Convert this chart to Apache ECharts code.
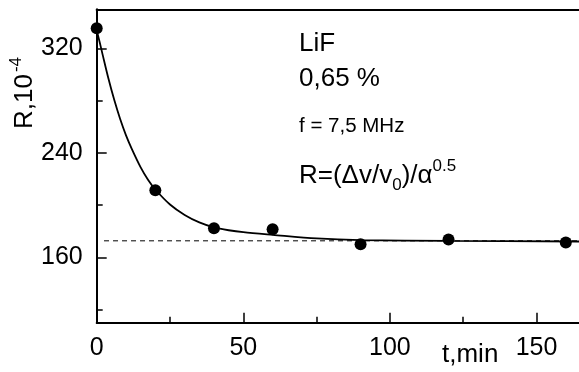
<!DOCTYPE html>
<html>
<head>
<meta charset="utf-8">
<script src="https://cdn.jsdelivr.net/npm/echarts@6/dist/echarts.min.js"></script>
<style>
html,body{margin:0;padding:0;background:#fff;}
#c{width:579px;height:372px;}
</style>
</head>
<body>
<div id="c"></div>
<script>
// measured points
const tPoints = [0, 20, 40, 60, 90, 120, 160];
const rPoints = [335.5, 211.5, 182.4, 181.5, 170, 173.8, 171.5];
// fitted curve
const tFit = [0, 1, 2, 4, 6, 8, 10, 12, 15, 17.5, 20, 25, 30, 35, 40, 45, 50, 60, 75, 90, 120, 164.5];
const rFit = [334, 325, 315.5, 297, 280.5, 266, 253.5, 243, 229, 219.5, 212, 200.5, 192.5, 186.8, 183, 180.8, 179.3, 177.3, 174.5, 173.2, 172.6, 172.2];
// dashed asymptote
const tDash = [2.5, 164.5];
const rDash = 172.7;
// ticks
const xMajor = [0, 50, 100, 150];
const xMinor = [25, 75, 125];
const yMajor = [160, 240, 320];
const yMinor = [120, 200, 280];
const xRange = [0, 164.5];
const yRange = [110, 350];

const FONT = '"Liberation Sans", Arial, sans-serif';
const chart = echarts.init(document.getElementById('c'), null, {renderer: 'canvas'});

const pts = tPoints.map((t, i) => [t, rPoints[i]]);
const fit = tFit.map((t, i) => [t, rFit[i]]);
const dash = tDash.map(t => [t, rDash]);

const axisLineStyle = {color: '#000', width: 2};
const tickStyle = {color: '#000', width: 1.5};

chart.setOption({
  animation: false,
  backgroundColor: '#fff',
  grid: {left: 96.7, right: 0, top: 9.3, bottom: 49.3, containLabel: false},
  xAxis: [
    {type: 'value', min: xRange[0], max: xRange[1], position: 'bottom',
     axisLine: {show: true, onZero: false, lineStyle: axisLineStyle},
     axisTick: {show: true, inside: true, length: 10, customValues: xMajor, lineStyle: tickStyle},
     axisLabel: {show: true, customValues: xMajor, margin: 13, color: '#000', fontSize: 25, fontFamily: FONT},
     splitLine: {show: false}},
    {type: 'value', min: xRange[0], max: xRange[1], position: 'bottom',
     axisLine: {show: false},
     axisTick: {show: true, inside: true, length: 6, customValues: xMinor, lineStyle: tickStyle},
     axisLabel: {show: false}, splitLine: {show: false}},
    {type: 'value', min: xRange[0], max: xRange[1], position: 'top',
     axisLine: {show: true, onZero: false, lineStyle: axisLineStyle},
     axisTick: {show: false}, axisLabel: {show: false}, splitLine: {show: false}}
  ],
  yAxis: [
    {type: 'value', min: yRange[0], max: yRange[1], position: 'left',
     axisLine: {show: true, onZero: false, lineStyle: axisLineStyle},
     axisTick: {show: true, inside: true, length: 10, customValues: yMajor, lineStyle: tickStyle},
     axisLabel: {show: true, customValues: yMajor, margin: 14, color: '#000', fontSize: 25, fontFamily: FONT},
     splitLine: {show: false}},
    {type: 'value', min: yRange[0], max: yRange[1], position: 'left',
     axisLine: {show: false},
     axisTick: {show: true, inside: true, length: 6, customValues: yMinor, lineStyle: tickStyle},
     axisLabel: {show: false}, splitLine: {show: false}}
  ],
  series: [
    {type: 'line', data: dash, xAxisIndex: 0, yAxisIndex: 0, symbol: 'none',
     lineStyle: {color: '#000', width: 1, type: [5, 4]}, silent: true},
    {type: 'line', data: fit, xAxisIndex: 0, yAxisIndex: 0, symbol: 'none', smooth: 0.3,
     lineStyle: {color: '#000', width: 1.8}, silent: true},
    {type: 'scatter', data: pts, xAxisIndex: 0, yAxisIndex: 0, symbol: 'circle', symbolSize: 12,
     itemStyle: {color: '#000', opacity: 1}, clip: false, silent: true}
  ],
  graphic: [
    {type: 'text', x: 25, y: 129, rotation: Math.PI / 2,
     style: {text: '{a|R,10}{s|-4}', align: 'left', verticalAlign: 'middle', fill: '#000',
       rich: {a: {fontSize: 26, lineHeight: 34, fontFamily: FONT, fill: '#000'},
              s: {fontSize: 17, fontFamily: FONT, verticalAlign: 'top', fill: '#000', padding: [0, 0, 0, 2]}}}},
    {type: 'text', x: 442, y: 355,
     style: {text: 't,min', fontSize: 26, fontFamily: FONT, fill: '#000', align: 'left', verticalAlign: 'middle'}},
    {type: 'text', x: 299, y: 44,
     style: {text: 'LiF', fontSize: 26, fontFamily: FONT, fill: '#000', align: 'left', verticalAlign: 'middle'}},
    {type: 'text', x: 299, y: 79,
     style: {text: '0,65 %', fontSize: 26, fontFamily: FONT, fill: '#000', align: 'left', verticalAlign: 'middle'}},
    {type: 'text', x: 299, y: 126.5,
     style: {text: 'f = 7,5 MHz', fontSize: 20.5, fontFamily: FONT, fill: '#000', align: 'left', verticalAlign: 'middle'}},
    {type: 'text', x: 299, y: 176,
     style: {text: '{a|R=(\u0394v/v}{b|0}{a|)/\u03b1}{c|0.5}', align: 'left', verticalAlign: 'middle', fill: '#000',
       rich: {a: {fontSize: 26, lineHeight: 36, fontFamily: FONT, fill: '#000'},
              b: {fontSize: 17, fontFamily: FONT, fill: '#000', verticalAlign: 'bottom'},
              c: {fontSize: 17, fontFamily: FONT, fill: '#000', verticalAlign: 'top'}}}}
  ]
});
</script>
</body>
</html>
